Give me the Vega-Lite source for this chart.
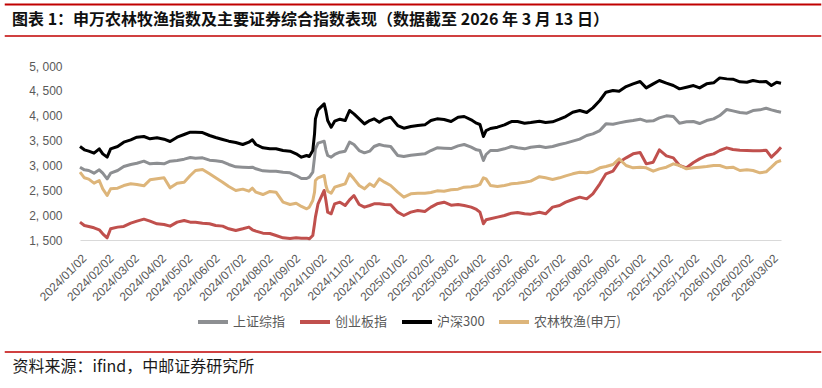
{
  "$schema": "https://vega.github.io/schema/vega-lite/v6.json",
  "width": 701,
  "height": 174,
  "autosize": {"type": "none"},
  "padding": {"left": 80, "top": 66, "right": 41, "bottom": 148},
  "background": "white",
  "config": {"view": {"stroke": null}},
  "title": {
    "text": "图表 1：申万农林牧渔指数及主要证券综合指数表现（数据截至 2026 年 3 月 13 日）",
    "anchor": "start",
    "frame": "group",
    "dx": -68,
    "dy": 28,
    "font": "Noto Sans CJK SC",
    "fontSize": 16,
    "fontWeight": "bold",
    "color": "#111111"
  },
  "resolve": {"scale": {"x": "independent", "y": "independent"}, "axis": {"x": "independent", "y": "independent"}},
  "layer": [
    {
      "data": {"values": [
        {"d":"2024-01-02","上证综指":2965,"创业板指":1859,"沪深300":3381,"农林牧渔(申万)":2864},
        {"d":"2024-01-07","上证综指":2911,"创业板指":1792,"沪深300":3314,"农林牧渔(申万)":2751},
        {"d":"2024-01-12","上证综指":2898,"创业板指":1772,"沪深300":3287,"农林牧渔(申万)":2724},
        {"d":"2024-01-18","上证综指":2844,"创业板指":1745,"沪深300":3247,"农林牧渔(申万)":2643},
        {"d":"2024-01-24","上证综指":2911,"创业板指":1705,"沪深300":3334,"农林牧渔(申万)":2697},
        {"d":"2024-01-28","上证综指":2844,"创业板指":1624,"沪深300":3233,"农林牧渔(申万)":2529},
        {"d":"2024-02-02","上证综指":2730,"创业板指":1544,"沪深300":3166,"农林牧渔(申万)":2395},
        {"d":"2024-02-06","上证综指":2844,"创业板指":1725,"沪深300":3334,"农林牧渔(申万)":2529},
        {"d":"2024-02-14","上证综指":2898,"创业板指":1759,"沪深300":3381,"农林牧渔(申万)":2543},
        {"d":"2024-02-21","上证综指":2978,"创业板指":1772,"沪深300":3468,"农林牧渔(申万)":2596},
        {"d":"2024-02-29","上证综指":3019,"创业板指":1839,"沪深300":3515,"农林牧渔(申万)":2630},
        {"d":"2024-03-07","上证综指":3045,"创业板指":1879,"沪深300":3568,"农林牧渔(申万)":2617},
        {"d":"2024-03-15","上证综指":3086,"创业板指":1919,"沪深300":3582,"农林牧渔(申万)":2590},
        {"d":"2024-03-22","上证综指":3032,"创业板指":1879,"沪深300":3535,"农林牧渔(申万)":2710},
        {"d":"2024-03-30","上证综指":3045,"创业板指":1826,"沪深300":3555,"农林牧渔(申万)":2730},
        {"d":"2024-04-07","上证综指":3032,"创业板指":1812,"沪深300":3528,"农林牧渔(申万)":2751},
        {"d":"2024-04-14","上证综指":3086,"创业板指":1779,"沪深300":3481,"农林牧渔(申万)":2549},
        {"d":"2024-04-22","上证综指":3099,"创业板指":1859,"沪深300":3568,"农林牧渔(申万)":2643},
        {"d":"2024-04-30","上证综指":3126,"创业板指":1893,"沪深300":3622,"农林牧渔(申万)":2663},
        {"d":"2024-05-07","上证综指":3159,"创业板指":1859,"沪深300":3669,"农林牧渔(申万)":2797},
        {"d":"2024-05-13","上证综指":3146,"创业板指":1859,"沪深300":3669,"农林牧渔(申万)":2898},
        {"d":"2024-05-21","上证综指":3153,"创业板指":1839,"沪深300":3662,"农林牧渔(申万)":2918},
        {"d":"2024-05-29","上证综指":3106,"创业板指":1826,"沪深300":3602,"农林牧渔(申万)":2831},
        {"d":"2024-06-05","上证综指":3092,"创业板指":1792,"沪深300":3562,"农林牧渔(申万)":2751},
        {"d":"2024-06-13","上证综指":3072,"创业板指":1779,"沪深300":3521,"农林牧渔(申万)":2663},
        {"d":"2024-06-20","上证综指":3019,"创业板指":1725,"沪深300":3488,"农林牧渔(申万)":2576},
        {"d":"2024-06-28","上证综指":2972,"创业板指":1692,"沪深300":3461,"农林牧渔(申万)":2496},
        {"d":"2024-07-06","上证综指":2965,"创业板指":1725,"沪深300":3421,"农林牧渔(申万)":2523},
        {"d":"2024-07-13","上证综指":2958,"创业板指":1759,"沪深300":3468,"农林牧渔(申万)":2482},
        {"d":"2024-07-17","上证综指":2965,"创业板指":1705,"沪深300":3515,"农林牧渔(申万)":2543},
        {"d":"2024-07-21","上证综指":2932,"创业板指":1678,"沪深300":3421,"农林牧渔(申万)":2462},
        {"d":"2024-07-29","上证综指":2891,"创业板指":1638,"沪深300":3354,"农林牧渔(申万)":2415},
        {"d":"2024-08-06","上证综指":2885,"创业板指":1631,"沪深300":3334,"农林牧渔(申万)":2476},
        {"d":"2024-08-13","上证综指":2885,"创业板指":1591,"沪深300":3334,"农林牧渔(申万)":2462},
        {"d":"2024-08-21","上证综指":2864,"创业板指":1544,"沪深300":3300,"农林牧渔(申万)":2261},
        {"d":"2024-08-29","上证综指":2851,"创业板指":1531,"沪深300":3287,"农林牧渔(申万)":2214},
        {"d":"2024-09-05","上证综指":2797,"创业板指":1544,"沪深300":3233,"农林牧渔(申万)":2241},
        {"d":"2024-09-11","上证综指":2737,"创业板指":1537,"沪深300":3166,"农林牧渔(申万)":2174},
        {"d":"2024-09-17","上证综指":2737,"创业板指":1537,"沪深300":3200,"农林牧渔(申万)":2127},
        {"d":"2024-09-20","上证综指":2764,"创业板指":1524,"沪深300":3180,"农林牧渔(申万)":2161},
        {"d":"2024-09-24","上证综指":2864,"创业板指":1591,"沪深300":3300,"农林牧渔(申万)":2295},
        {"d":"2024-09-26","上证综指":3166,"创业板指":1826,"沪深300":3635,"农林牧渔(申万)":2462},
        {"d":"2024-09-27","上证综指":3334,"创业板指":1960,"沪深300":3937,"农林牧渔(申万)":2697},
        {"d":"2024-09-30","上证综指":3448,"创业板指":2228,"沪深300":4118,"农林牧渔(申万)":2751},
        {"d":"2024-10-07","上证综指":3488,"创业板指":2496,"沪深300":4239,"农林牧渔(申万)":2797},
        {"d":"2024-10-09","上证综指":3314,"创业板指":2295,"沪深300":4091,"农林牧渔(申万)":2596},
        {"d":"2024-10-11","上证综指":3200,"创业板指":2060,"沪深300":3903,"农林牧渔(申万)":2482},
        {"d":"2024-10-15","上证综指":3166,"创业板指":2027,"沪深300":3769,"农林牧渔(申万)":2442},
        {"d":"2024-10-19","上证综指":3220,"创业板指":2228,"沪深300":3890,"农林牧渔(申万)":2563},
        {"d":"2024-10-25","上证综指":3267,"创业板指":2261,"沪深300":3930,"农林牧渔(申万)":2596},
        {"d":"2024-10-31","上证综指":3287,"创业板指":2194,"沪深300":3903,"农林牧渔(申万)":2630},
        {"d":"2024-11-05","上证综指":3468,"创业板指":2308,"沪深300":4105,"农林牧渔(申万)":2831},
        {"d":"2024-11-10","上证综指":3421,"创业板指":2395,"沪深300":4038,"农林牧渔(申万)":2730},
        {"d":"2024-11-16","上证综指":3300,"创业板指":2214,"沪深300":3937,"农林牧渔(申万)":2596},
        {"d":"2024-11-22","上证综指":3253,"创业板指":2161,"沪深300":3836,"农林牧渔(申万)":2529},
        {"d":"2024-11-28","上证综指":3287,"创业板指":2194,"沪深300":3903,"农林牧渔(申万)":2630},
        {"d":"2024-12-03","上证综指":3381,"创业板指":2228,"沪深300":3937,"农林牧渔(申万)":2576},
        {"d":"2024-12-09","上证综指":3421,"创业板指":2228,"沪深300":3870,"农林牧渔(申万)":2730},
        {"d":"2024-12-15","上证综指":3394,"创业板指":2214,"沪深300":3937,"农林牧渔(申万)":2663},
        {"d":"2024-12-22","上证综指":3381,"创业板指":2208,"沪深300":3971,"农林牧渔(申万)":2596},
        {"d":"2024-12-30","上证综指":3200,"创业板指":2060,"沪深300":3803,"农林牧渔(申万)":2462},
        {"d":"2025-01-06","上证综指":3180,"创业板指":1993,"沪深300":3749,"农林牧渔(申万)":2362},
        {"d":"2025-01-14","上证综指":3206,"创业板指":2060,"沪深300":3783,"农林牧渔(申万)":2429},
        {"d":"2025-01-22","上证综指":3220,"创业板指":2094,"沪深300":3803,"农林牧渔(申万)":2442},
        {"d":"2025-01-30","上证综指":3233,"创业板指":2074,"沪深300":3816,"农林牧渔(申万)":2442},
        {"d":"2025-02-06","上证综指":3300,"创业板指":2161,"沪深300":3903,"农林牧渔(申万)":2456},
        {"d":"2025-02-13","上证综指":3354,"创业板指":2228,"沪深300":3937,"农林牧渔(申万)":2489},
        {"d":"2025-02-21","上证综指":3347,"创业板指":2261,"沪深300":3924,"农林牧渔(申万)":2482},
        {"d":"2025-03-01","上证综指":3340,"创业板指":2201,"沪深300":3883,"农林牧渔(申万)":2509},
        {"d":"2025-03-09","上证综指":3394,"创业板指":2214,"沪深300":3971,"农林牧渔(申万)":2523},
        {"d":"2025-03-16","上证综指":3421,"创业板指":2194,"沪深300":3984,"农林牧渔(申万)":2563},
        {"d":"2025-03-24","上证综指":3367,"创业板指":2161,"沪深300":3917,"农林牧渔(申万)":2570},
        {"d":"2025-03-30","上证综指":3314,"创业板指":2114,"沪深300":3850,"农林牧渔(申万)":2590},
        {"d":"2025-04-03","上证综指":3300,"创业板指":2060,"沪深300":3823,"农林牧渔(申万)":2617},
        {"d":"2025-04-07","上证综指":3099,"创业板指":1826,"沪深300":3582,"农林牧渔(申万)":2751},
        {"d":"2025-04-10","上证综指":3220,"创业板指":1906,"沪深300":3702,"农林牧渔(申万)":2730},
        {"d":"2025-04-15","上证综指":3300,"创业板指":1926,"沪深300":3743,"农林牧渔(申万)":2596},
        {"d":"2025-04-23","上证综指":3300,"创业板指":1960,"沪深300":3769,"农林牧渔(申万)":2576},
        {"d":"2025-05-01","上证综指":3334,"创业板指":1993,"沪深300":3816,"农林牧渔(申万)":2596},
        {"d":"2025-05-09","上证综指":3381,"创业板指":2040,"沪深300":3883,"农林牧渔(申万)":2630},
        {"d":"2025-05-16","上证综指":3354,"创业板指":2054,"沪深300":3883,"农林牧渔(申万)":2643},
        {"d":"2025-05-24","上证综指":3334,"创业板指":2027,"沪深300":3850,"农林牧渔(申万)":2663},
        {"d":"2025-05-31","上证综指":3367,"创业板指":2020,"沪深300":3863,"农林牧渔(申万)":2684},
        {"d":"2025-06-10","上证综指":3384,"创业板指":2057,"沪深300":3887,"农林牧渔(申万)":2774},
        {"d":"2025-06-17","上证综指":3361,"创业板指":2027,"沪深300":3863,"农林牧渔(申万)":2751},
        {"d":"2025-06-25","上证综指":3381,"创业板指":2161,"沪深300":3877,"农林牧渔(申万)":2717},
        {"d":"2025-07-03","上证综指":3421,"创业板指":2194,"沪深300":3930,"农林牧渔(申万)":2751},
        {"d":"2025-07-10","上证综指":3448,"创业板指":2261,"沪深300":3984,"农林牧渔(申万)":2791},
        {"d":"2025-07-18","上证综指":3488,"创业板指":2315,"沪深300":4071,"农林牧渔(申万)":2831},
        {"d":"2025-07-26","上证综指":3528,"创业板指":2362,"沪深300":4105,"农林牧渔(申万)":2864},
        {"d":"2025-08-03","上证综指":3602,"创业板指":2328,"沪深300":4064,"农林牧渔(申万)":2851},
        {"d":"2025-08-10","上证综指":3635,"创业板指":2429,"沪深300":4158,"农林牧渔(申万)":2878},
        {"d":"2025-08-18","上证综指":3702,"创业板指":2630,"沪深300":4306,"农林牧渔(申万)":2952},
        {"d":"2025-08-25","上证综指":3836,"创业板指":2831,"沪深300":4473,"农林牧渔(申万)":2978},
        {"d":"2025-09-02","上证综指":3830,"创业板指":2884,"沪深300":4507,"农林牧渔(申万)":3019},
        {"d":"2025-09-09","上证综指":3856,"创业板指":3065,"沪深300":4493,"农林牧渔(申万)":3132},
        {"d":"2025-09-17","上证综指":3883,"创业板指":3153,"沪深300":4587,"农林牧渔(申万)":2999},
        {"d":"2025-09-25","上证综指":3903,"创业板指":3233,"沪深300":4641,"农林牧渔(申万)":2952},
        {"d":"2025-10-03","上证综指":3930,"创业板指":3260,"沪深300":4688,"农林牧渔(申万)":2965},
        {"d":"2025-10-10","上证综指":3890,"创业板指":3032,"沪深300":4560,"农林牧渔(申万)":2952},
        {"d":"2025-10-18","上证综指":3897,"创业板指":3065,"沪深300":4641,"农林牧渔(申万)":2885},
        {"d":"2025-10-25","上证综指":3957,"创业板指":3314,"沪深300":4708,"农林牧渔(申万)":2931},
        {"d":"2025-11-02","上证综指":3997,"创业板指":3193,"沪深300":4654,"农林牧渔(申万)":2965},
        {"d":"2025-11-10","上证综指":3984,"创业板指":3153,"沪深300":4607,"农林牧渔(申万)":3032},
        {"d":"2025-11-17","上证综指":3850,"创业板指":2999,"沪深300":4540,"农林牧渔(申万)":2999},
        {"d":"2025-11-25","上证综指":3877,"创业板指":2952,"沪深300":4574,"农林牧渔(申万)":2931},
        {"d":"2025-12-03","上证综指":3883,"创业板指":3059,"沪深300":4607,"农林牧渔(申万)":2952},
        {"d":"2025-12-10","上证综指":3843,"创业板指":3132,"沪深300":4560,"农林牧渔(申万)":2965},
        {"d":"2025-12-18","上证综指":3903,"创业板指":3200,"沪深300":4641,"农林牧渔(申万)":2978},
        {"d":"2025-12-26","上证综指":3937,"创业板指":3233,"沪深300":4661,"农林牧渔(申万)":2999},
        {"d":"2026-01-02","上证综指":4004,"创业板指":3300,"沪深300":4761,"农林牧渔(申万)":2999},
        {"d":"2026-01-10","上证综指":4125,"创业板指":3354,"沪深300":4741,"农林牧渔(申万)":2952},
        {"d":"2026-01-17","上证综指":4098,"创业板指":3320,"沪深300":4735,"农林牧渔(申万)":2965},
        {"d":"2026-01-25","上证综指":4064,"创业板指":3307,"沪深300":4681,"农林牧渔(申万)":2898},
        {"d":"2026-02-02","上证综指":4051,"创业板指":3300,"沪深300":4674,"农林牧渔(申万)":2911},
        {"d":"2026-02-09","上证综指":4104,"创业板指":3294,"沪深300":4708,"农林牧渔(申万)":2898},
        {"d":"2026-02-17","上证综指":4118,"创业板指":3294,"沪深300":4681,"农林牧渔(申万)":2851},
        {"d":"2026-02-24","上证综指":4151,"创业板指":3307,"沪深300":4688,"农林牧渔(申万)":2871},
        {"d":"2026-03-02","上证综指":4118,"创业板指":3166,"沪深300":4607,"农林牧渔(申万)":2965},
        {"d":"2026-03-08","上证综指":4091,"创业板指":3267,"沪深300":4674,"农林牧渔(申万)":3065},
        {"d":"2026-03-13","上证综指":4071,"创业板指":3367,"沪深300":4654,"农林牧渔(申万)":3099}
      ]},
      "transform": [{"fold": ["上证综指", "创业板指", "沪深300", "农林牧渔(申万)"], "as": ["s", "v"]}],
      "mark": {"type": "line", "strokeWidth": 3, "strokeJoin": "round"},
      "encoding": {
        "x": {
          "field": "d",
          "type": "temporal",
          "scale": {"type": "utc", "domain": [{"year": 2024, "month": 1, "date": 2, "utc": true}, {"year": 2026, "month": 3, "date": 13, "utc": true}]},
          "axis": {
            "values": [
              {"year":2024,"month":1,"date":2,"utc":true},{"year":2024,"month":2,"date":2,"utc":true},{"year":2024,"month":3,"date":2,"utc":true},
              {"year":2024,"month":4,"date":2,"utc":true},{"year":2024,"month":5,"date":2,"utc":true},{"year":2024,"month":6,"date":2,"utc":true},
              {"year":2024,"month":7,"date":2,"utc":true},{"year":2024,"month":8,"date":2,"utc":true},{"year":2024,"month":9,"date":2,"utc":true},
              {"year":2024,"month":10,"date":2,"utc":true},{"year":2024,"month":11,"date":2,"utc":true},{"year":2024,"month":12,"date":2,"utc":true},
              {"year":2025,"month":1,"date":2,"utc":true},{"year":2025,"month":2,"date":2,"utc":true},{"year":2025,"month":3,"date":2,"utc":true},
              {"year":2025,"month":4,"date":2,"utc":true},{"year":2025,"month":5,"date":2,"utc":true},{"year":2025,"month":6,"date":2,"utc":true},
              {"year":2025,"month":7,"date":2,"utc":true},{"year":2025,"month":8,"date":2,"utc":true},{"year":2025,"month":9,"date":2,"utc":true},
              {"year":2025,"month":10,"date":2,"utc":true},{"year":2025,"month":11,"date":2,"utc":true},{"year":2025,"month":12,"date":2,"utc":true},
              {"year":2026,"month":1,"date":2,"utc":true},{"year":2026,"month":2,"date":2,"utc":true},{"year":2026,"month":3,"date":2,"utc":true}
            ],
            "labelExpr": "utcFormat(datum.value, '%Y/%m/%d')",
            "labelAngle": -45,
            "labelAlign": "right",
            "labelBaseline": "middle",
            "labelFont": "Liberation Sans",
            "labelFontSize": 12,
            "labelColor": "#595959",
            "labelPadding": 16,
            "labelOffset": 4,
            "labelOverlap": false,
            "labelFlush": false,
            "labelBound": false,
            "ticks": false,
            "tickSize": 0,
            "grid": false,
            "domainColor": "#D9D9D9",
            "domainWidth": 1,
            "title": "资料来源：ifind，中邮证券研究所",
            "titleX": -68,
            "titleY": 126,
            "titleAlign": "left",
            "titleBaseline": "middle",
            "titleFont": "Noto Sans CJK SC",
            "titleFontSize": 16,
            "titleFontWeight": "normal",
            "titleColor": "#1a1a1a"
          }
        },
        "y": {
          "field": "v",
          "type": "quantitative",
          "scale": {"domain": [1500, 5000], "nice": false, "zero": false},
          "axis": {
            "values": [1500, 2000, 2500, 3000, 3500, 4000, 4500, 5000],
            "labelExpr": "replace(format(datum.value, ','), ',', ', ')",
            "labelFont": "Liberation Sans",
            "labelFontSize": 12,
            "labelColor": "#595959",
            "labelPadding": 18,
            "labelOverlap": false,
            "labelFlush": false,
            "ticks": false,
            "tickSize": 0,
            "domain": false,
            "grid": false,
            "title": null
          }
        },
        "color": {
          "field": "s",
          "type": "nominal",
          "scale": {"domain": ["上证综指", "创业板指", "沪深300", "农林牧渔(申万)"], "range": ["#8D8F92", "#C0504D", "#000000", "#DDB57A"]},
          "legend": {
            "title": null,
            "orient": "none",
            "direction": "horizontal",
            "legendX": 116,
            "legendY": 239,
            "symbolType": "stroke",
            "symbolSize": 900,
            "symbolStrokeWidth": 4,
            "labelFont": "Noto Sans CJK SC",
            "labelFontSize": 13,
            "labelColor": "#595959",
            "labelOffset": 3,
            "columnPadding": 6,
            "labelLimit": 300
          }
        }
      }
    },
    {
      "data": {"values": [{}]},
      "mark": {"type": "rule", "color": "#C00000", "strokeWidth": 2},
      "encoding": {
        "x": {"datum": {"year": 2023, "month": 10, "date": 8, "utc": true}, "type": "temporal", "axis": null, "scale": {"type": "utc", "domain": [{"year": 2024, "month": 1, "date": 2, "utc": true}, {"year": 2026, "month": 3, "date": 13, "utc": true}]}},
        "x2": {"datum": {"year": 2026, "month": 4, "date": 28, "utc": true}},
        "y": {"datum": 6237, "type": "quantitative", "axis": null, "scale": {"domain": [1500, 5000], "nice": false, "zero": false}}
      }
    },
    {
      "data": {"values": [{}]},
      "mark": {"type": "rule", "color": "#C00000", "strokeWidth": 1.5},
      "encoding": {
        "x": {"datum": {"year": 2023, "month": 10, "date": 8, "utc": true}, "type": "temporal", "axis": null, "scale": {"type": "utc", "domain": [{"year": 2024, "month": 1, "date": 2, "utc": true}, {"year": 2026, "month": 3, "date": 13, "utc": true}]}},
        "x2": {"datum": {"year": 2026, "month": 4, "date": 28, "utc": true}},
        "y": {"datum": 5603, "type": "quantitative", "axis": null, "scale": {"domain": [1500, 5000], "nice": false, "zero": false}}
      }
    },
    {
      "data": {"values": [{}]},
      "mark": {"type": "rule", "color": "#C00000", "strokeWidth": 1.5},
      "encoding": {
        "x": {"datum": {"year": 2023, "month": 10, "date": 8, "utc": true}, "type": "temporal", "axis": null, "scale": {"type": "utc", "domain": [{"year": 2024, "month": 1, "date": 2, "utc": true}, {"year": 2026, "month": 3, "date": 13, "utc": true}]}},
        "x2": {"datum": {"year": 2026, "month": 4, "date": 28, "utc": true}},
        "y": {"datum": -753, "type": "quantitative", "axis": null, "scale": {"domain": [1500, 5000], "nice": false, "zero": false}}
      }
    }
  ]
}
